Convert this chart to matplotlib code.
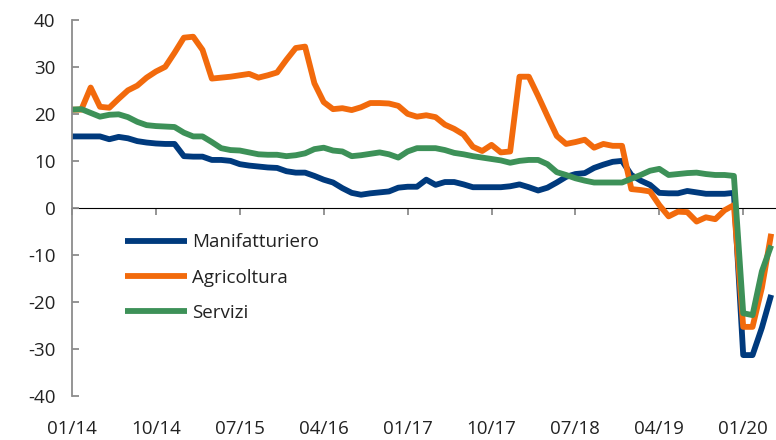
import numpy as np
import matplotlib
matplotlib.use("Agg")
import matplotlib.pyplot as plt

plt.rcParams["font.family"] = ["Open Sans", "DejaVu Sans"]
plt.rcParams["axes.unicode_minus"] = False

# monthly series, 01/2014 - 04/2020
manifatturiero = [15.2, 15.2, 15.2, 15.2, 14.6, 15.1, 14.8, 14.2, 13.9, 13.7,
                  13.6, 13.6, 11.0, 10.9, 10.9, 10.2, 10.2, 10.0, 9.3, 9.0,
                  8.8, 8.6, 8.5, 7.8, 7.5, 7.5, 6.8, 6.0, 5.4, 4.2,
                  3.2, 2.8, 3.1, 3.3, 3.5, 4.3, 4.5, 4.5, 6.0, 4.9,
                  5.5, 5.5, 5.0, 4.4, 4.4, 4.4, 4.4, 4.6, 5.0, 4.4,
                  3.7, 4.3, 5.4, 6.6, 7.2, 7.4, 8.5, 9.2, 9.8, 10.0,
                  7.0, 5.8, 4.9, 3.2, 3.1, 3.1, 3.6, 3.3, 3.0, 3.0,
                  3.0, 3.2, -31.3, -31.3, -25.5, -18.5]
agricoltura = [20.9, 20.9, 25.6, 21.5, 21.3, 23.2, 25.0, 26.0, 27.7, 29.0,
               30.0, 33.0, 36.2, 36.4, 33.6, 27.5, 27.7, 27.9, 28.2, 28.5,
               27.7, 28.2, 28.8, 31.5, 34.0, 34.3, 26.5, 22.5, 21.0, 21.2,
               20.8, 21.4, 22.3, 22.3, 22.2, 21.7, 20.0, 19.4, 19.7, 19.3,
               17.7, 16.8, 15.6, 13.0, 12.1, 13.4, 11.8, 12.0, 27.9, 27.9,
               23.8, 19.5, 15.3, 13.6, 14.0, 14.5, 12.8, 13.6, 13.2, 13.2,
               4.0, 3.8, 3.5, 0.6, -1.8, -0.8, -0.9, -2.9, -2.0, -2.4,
               -0.5, 0.6, -25.3, -25.3, -17.0, -5.5]
servizi = [20.9, 21.0, 20.2, 19.4, 19.8, 19.9, 19.3, 18.3, 17.6, 17.4,
           17.3, 17.2, 16.0, 15.2, 15.2, 14.0, 12.7, 12.3, 12.2, 11.8,
           11.4, 11.3, 11.3, 11.0, 11.2, 11.6, 12.5, 12.8, 12.2, 12.0,
           11.0, 11.2, 11.5, 11.8, 11.4, 10.7, 12.0, 12.7, 12.7, 12.7,
           12.3, 11.7, 11.4, 11.0, 10.7, 10.4, 10.1, 9.6, 10.0, 10.2,
           10.2, 9.3, 7.6, 7.0, 6.3, 5.8, 5.4, 5.4, 5.4, 5.4,
           6.2, 7.0, 7.9, 8.3, 7.0, 7.2, 7.4, 7.5, 7.2, 7.0,
           7.0, 6.8, -22.4, -22.8, -13.5, -8.0]

tick_labels = ["01/14", "10/14", "07/15", "04/16", "01/17",
               "10/17", "07/18", "04/19", "01/20"]
tick_step = 9

x = np.arange(len(manifatturiero))

fig = plt.figure(figsize=(7.76, 4.40), dpi=100)
ax = fig.add_axes([0.0928, 0.1, 0.907, 0.855])

lw = 4.2
ax.plot(x, manifatturiero, color="#003a7d", lw=lw, label="Manifatturiero",
        solid_capstyle="butt", solid_joinstyle="round")
ax.plot(x, agricoltura, color="#f26a0c", lw=lw, label="Agricoltura",
        solid_capstyle="butt", solid_joinstyle="round")
ax.plot(x, servizi, color="#3d9158", lw=lw, label="Servizi",
        solid_capstyle="butt", solid_joinstyle="round")

ax.set_ylim(-40, 40)
ax.set_xlim(0, len(x) - 0.5)
ax.set_yticks(np.arange(-40, 41, 10))

ticks = np.arange(len(tick_labels)) * tick_step
ax.set_xticks(ticks)
ax.set_xticklabels(tick_labels)

gray = "#8c8c8c"
for s in ["top", "right", "bottom"]:
    ax.spines[s].set_visible(False)
ax.spines["left"].set_color(gray)
ax.spines["left"].set_linewidth(1.3)
ax.tick_params(axis="y", direction="in", length=5, width=1.3, color=gray,
               labelsize=13.5, labelcolor="#222222", pad=12)
ax.tick_params(axis="x", length=0, labelsize=13.5, labelcolor="#222222", pad=17)

# zero axis with its own tick marks
zero = ax.secondary_xaxis(0.5)
zero.set_xticks(ticks)
zero.set_xticklabels([""] * len(ticks))
zero.tick_params(axis="x", direction="in", length=5, width=1.3, color=gray)
zero.spines["bottom"].set_color(gray)
zero.spines["bottom"].set_linewidth(1.3)

leg = ax.legend(loc="upper left", bbox_to_anchor=(0.075, 0.432), frameon=False,
                fontsize=13.5, handlelength=3.3, handletextpad=0.3,
                labelspacing=0.92, borderpad=0, borderaxespad=0)
for t in leg.get_texts():
    t.set_color("#222222")

fig.savefig("out.png", dpi=100)
